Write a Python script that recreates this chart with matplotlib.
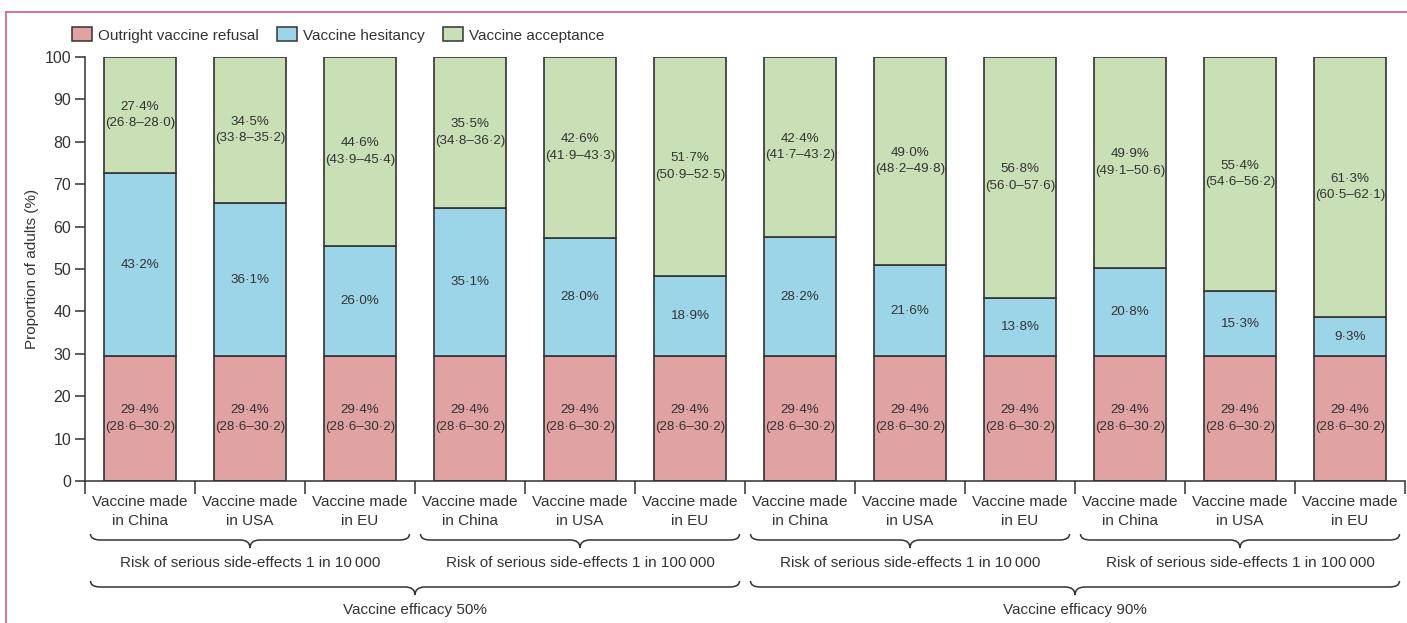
import matplotlib
matplotlib.use("Agg")
import matplotlib.pyplot as plt
import matplotlib.transforms as mtransforms
from matplotlib.path import Path
from matplotlib.patches import PathPatch, Patch
from matplotlib.lines import Line2D
import numpy as np

plt.rcParams['font.family'] = ['Liberation Sans Narrow', 'Liberation Sans', 'DejaVu Sans']
plt.rcParams['text.color'] = '#333333'
plt.rcParams['axes.labelcolor'] = '#333333'
plt.rcParams['xtick.color'] = '#333333'
plt.rcParams['ytick.color'] = '#333333'

# Donnees
categories = ["Vaccine made\nin China", "Vaccine made\nin USA", "Vaccine made\nin EU"] * 4
refusal = [29.4] * 12
refusal_ci = ["28·6–30·2"] * 12
hesitancy = [43.2, 36.1, 26.0, 35.1, 28.0, 18.9, 28.2, 21.6, 13.8, 20.8, 15.3, 9.3]
acceptance = [27.4, 34.5, 44.6, 35.5, 42.6, 51.7, 42.4, 49.0, 56.8, 49.9, 55.4, 61.3]
acceptance_ci = ["26·8–28·0", "33·8–35·2", "43·9–45·4", "34·8–36·2", "41·9–43·3", "50·9–52·5",
                 "41·7–43·2", "48·2–49·8", "56·0–57·6", "49·1–50·6", "54·6–56·2", "60·5–62·1"]
risk_labels = ["Risk of serious side-effects 1 in 10\u2009000", "Risk of serious side-effects 1 in 100\u2009000"] * 2
efficacy_labels = ["Vaccine efficacy 50%", "Vaccine efficacy 90%"]
series_names = ["Outright vaccine refusal", "Vaccine hesitancy", "Vaccine acceptance"]

c_ref = '#E0A2A2'
c_hes = '#9DD5E8'
c_acc = '#C9DFB5'
edge = '#333333'


def fmt(v):
    return f"{v:.1f}".replace('.', '·') + "%"


fig = plt.figure(figsize=(14.07, 6.23), dpi=100)
ax = fig.add_axes([85 / 1407, 1 - 481 / 623, 1320 / 1407, 424 / 623])

x = np.arange(len(categories))
w = 0.655
ax.bar(x, refusal, w, color=c_ref, edgecolor=edge, linewidth=1.2)
ax.bar(x, hesitancy, w, bottom=refusal, color=c_hes, edgecolor=edge, linewidth=1.2)
bot2 = np.array(refusal) + np.array(hesitancy)
ax.bar(x, acceptance, w, bottom=bot2, color=c_acc, edgecolor=edge, linewidth=1.2)

fs = 9.6
for i in x:
    ax.text(i, refusal[i] / 2, f"{fmt(refusal[i])}\n({refusal_ci[i]})",
            ha='center', va='center', fontsize=fs, linespacing=1.5)
    ax.text(i, refusal[i] + hesitancy[i] / 2, fmt(hesitancy[i]),
            ha='center', va='center', fontsize=fs)
    ax.text(i, bot2[i] + acceptance[i] / 2, f"{fmt(acceptance[i])}\n({acceptance_ci[i]})",
            ha='center', va='center', fontsize=fs, linespacing=1.5)

ax.set_xlim(-0.5, 11.5)
ax.set_ylim(0, 100)
ax.set_yticks(range(0, 101, 10))
ax.tick_params(axis='y', labelsize=11.5, length=7, width=1.1, pad=3)
ax.set_ylabel("Proportion of adults (%)", fontsize=11, labelpad=4)

ax.set_xticks(x)
ax.set_xticklabels(categories, fontsize=11, linespacing=1.45)
ax.tick_params(axis='x', which='major', length=0, pad=10)
ax.set_xticks(np.arange(-0.5, 12, 1), minor=True)
ax.tick_params(axis='x', which='minor', length=9, width=1.1, direction='out')

for s in ['top', 'right']:
    ax.spines[s].set_visible(False)
for s in ['left', 'bottom']:
    ax.spines[s].set_linewidth(1.1)
    ax.spines[s].set_color(edge)

# accolades sous l'axe
trans = mtransforms.blended_transform_factory(ax.transData, fig.transFigure)


def brace(x0, x1, ypix_hook, ypix_line, ypix_tip, r=0.09):
    yh = 1 - ypix_hook / 623
    yl = 1 - ypix_line / 623
    yt = 1 - ypix_tip / 623
    xm = (x0 + x1) / 2
    verts = [(x0, yh), (x0, yl), (x0 + r, yl), (xm - r, yl), (xm, yl), (xm, yt),
             (xm, yl), (xm + r, yl), (x1 - r, yl), (x1, yl), (x1, yh)]
    codes = [Path.MOVETO, Path.CURVE3, Path.CURVE3, Path.LINETO, Path.CURVE3, Path.CURVE3,
             Path.CURVE3, Path.CURVE3, Path.LINETO, Path.CURVE3, Path.CURVE3]
    ax.add_patch(PathPatch(Path(verts, codes), fill=False, edgecolor=edge, lw=1.1,
                           transform=trans, clip_on=False))


inset = 0.05
for g in range(4):
    x0, x1 = g * 3 - 0.5 + inset, g * 3 + 2.5 - inset
    brace(x0, x1, 534, 540, 548)
    ax.text(g * 3 + 1, 1 - 563 / 623, risk_labels[g], transform=trans, ha='center', va='center',
            fontsize=11)
for g in range(2):
    x0, x1 = g * 6 - 0.5 + inset, g * 6 + 5.5 - inset
    brace(x0, x1, 581, 587, 595)
    ax.text(g * 6 + 2.5, 1 - 610 / 623, efficacy_labels[g], transform=trans, ha='center', va='center',
            fontsize=11)

# legende
handles = [Patch(facecolor=c, edgecolor=edge, linewidth=1.1) for c in (c_ref, c_hes, c_acc)]
fig.legend(handles, series_names, loc='center left', bbox_to_anchor=(66 / 1407, 1 - 35 / 623),
           ncol=3, frameon=False, fontsize=11, handlelength=1.3, handleheight=1.0,
           handletextpad=0.4, columnspacing=1.2, borderaxespad=0)

# cadre rose
pink = '#D9577A'
fig.add_artist(Line2D([6 / 1407, 1], [1 - 12 / 623, 1 - 12 / 623], color=pink, lw=1.2,
                      transform=fig.transFigure))
fig.add_artist(Line2D([6 / 1407, 6 / 1407], [0, 1 - 12 / 623], color=pink, lw=1.2,
                      transform=fig.transFigure))

fig.savefig("out.png", dpi=100)
